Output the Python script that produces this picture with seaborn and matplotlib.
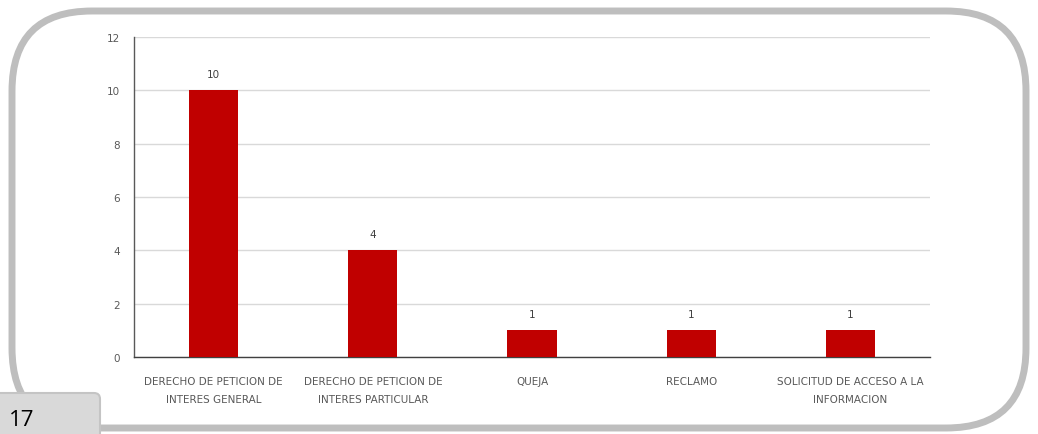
import matplotlib
matplotlib.use("Agg")
import matplotlib.pyplot as plt
from matplotlib.patches import FancyBboxPatch
import seaborn as sns
import pandas as pd

categorias = [
    "DERECHO DE PETICION DE\nINTERES GENERAL",
    "DERECHO DE PETICION DE\nINTERES PARTICULAR",
    "QUEJA",
    "RECLAMO",
    "SOLICITUD DE ACCESO A LA\nINFORMACION",
]
cantidades = [10, 4, 1, 1, 1]
y_ticks = [0, 2, 4, 6, 8, 10, 12]
pagina = "17"

df = pd.DataFrame({"tipo": categorias, "cantidad": cantidades})

sns.set_style("white")
plt.rcParams["font.family"] = ["Liberation Sans Narrow", "DejaVu Sans"]

fig = plt.figure(figsize=(10.38, 4.35), dpi=100)

# marco redondeado de fondo, en pixeles
bg = fig.add_axes([0, 0, 1, 1])
bg.set_xlim(0, 1038)
bg.set_ylim(435, 0)
bg.axis("off")
bg.add_patch(FancyBboxPatch((12, 12), 1014, 417,
                            boxstyle="round,pad=0,rounding_size=80",
                            fc="white", ec="#BEBEBE", lw=5))
bg.add_patch(FancyBboxPatch((-10, 394), 110, 60,
                            boxstyle="round,pad=0,rounding_size=6",
                            fc="#D9D9D9", ec="#C4C4C4", lw=1.5))
bg.text(9, 421, pagina, fontsize=16, color="black", va="center", ha="left",
        family=["Open Sans", "DejaVu Sans"])

ax = fig.add_axes([0.1291, 0.177, 0.7669, 0.7356])
sns.barplot(data=df, x="tipo", y="cantidad", color="#C00000", width=0.31,
            saturation=1, edgecolor="none", ax=ax, zorder=3)
ax.set_ylim(0, 12)
ax.set_yticks(y_ticks)
ax.set_xlim(-0.5, len(categorias) - 0.5)
ax.grid(axis="y", color="#D9D9D9", lw=1, zorder=0)
ax.set_xlabel("")
ax.set_ylabel("")
for s in ["top", "right"]:
    ax.spines[s].set_visible(False)
ax.spines["left"].set_color("#595959")
ax.spines["bottom"].set_color("#404040")
ax.spines["left"].set_linewidth(1)
ax.spines["bottom"].set_linewidth(1)
ax.tick_params(axis="y", length=0, labelsize=7.5, labelcolor="#595959", pad=10)
ax.tick_params(axis="x", length=0, labelsize=7.5, labelcolor="#595959", pad=14)
for lab in ax.get_xticklabels():
    lab.set_linespacing(2.0)
    lab.set_ha("center")
ax.bar_label(ax.containers[0], fontsize=7.5, color="#404040", padding=8)

fig.savefig("out.png", dpi=100)
